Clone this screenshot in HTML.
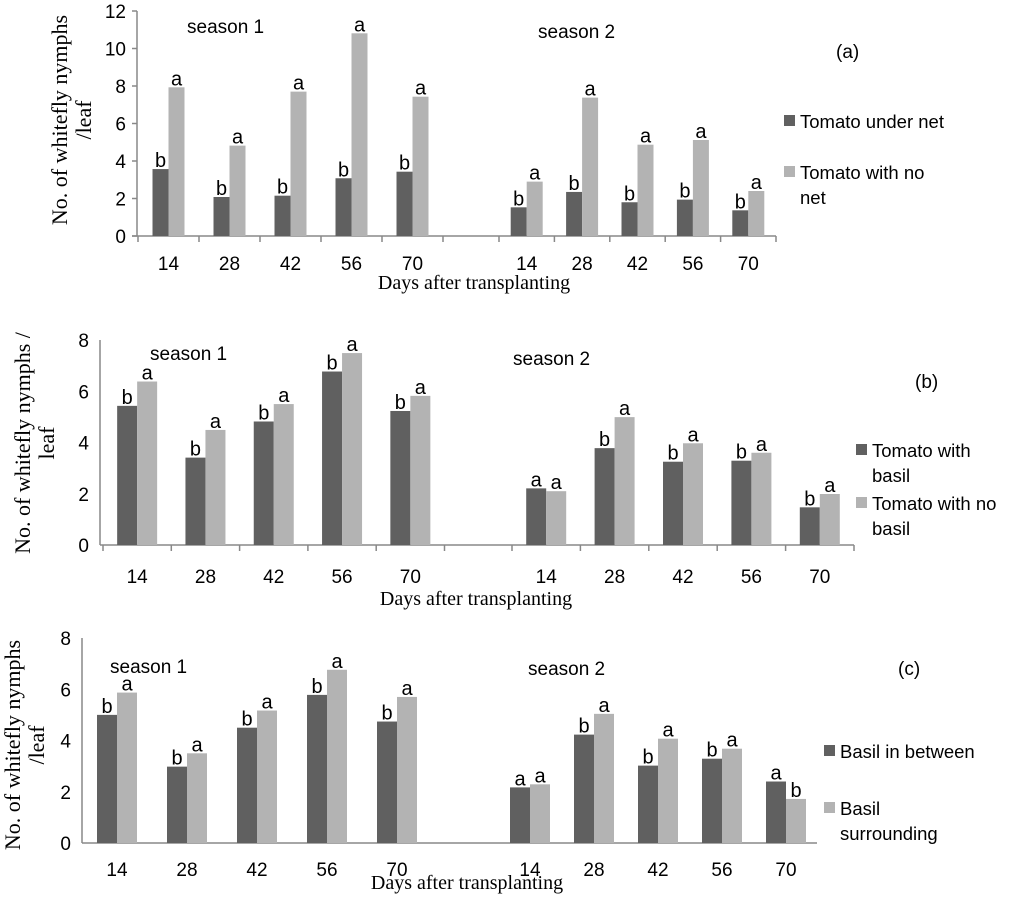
<!DOCTYPE html>
<html><head><meta charset="utf-8"><style>
body{margin:0;background:#fff;width:1024px;height:898px;overflow:hidden}
svg{display:block}
.s{font-family:"Liberation Sans",sans-serif}
.r{font-family:"Liberation Serif",serif}
</style></head><body>
<svg id="chart" width="1024" height="898" xmlns="http://www.w3.org/2000/svg"></svg>
<script>
const categories=["14","28","42","56","70"];
const aDark1=[3.57,2.08,2.15,3.08,3.43];
const aLight1=[7.93,4.82,7.7,10.81,7.43];
const aDark2=[1.53,2.35,1.8,1.94,1.37];
const aLight2=[2.9,7.38,4.87,5.12,2.4];
const aLetD1=["b","b","b","b","b"],aLetL1=["a","a","a","a","a"];
const aLetD2=["b","b","b","b","b"],aLetL2=["a","a","a","a","a"];
const bDark1=[5.43,3.41,4.82,6.77,5.23];
const bLight1=[6.38,4.49,5.5,7.49,5.82];
const bDark2=[2.21,3.78,3.25,3.29,1.47];
const bLight2=[2.1,4.99,3.97,3.6,1.99];
const bLetD1=["b","b","b","b","b"],bLetL1=["a","a","a","a","a"];
const bLetD2=["a","b","b","b","b"],bLetL2=["a","a","a","a","a"];
const cDark1=[5.0,2.98,4.5,5.78,4.74];
const cLight1=[5.87,3.5,5.17,6.76,5.7];
const cDark2=[2.17,4.23,3.02,3.29,2.4];
const cLight2=[2.29,5.04,4.07,3.68,1.72];
const cLetD1=["b","b","b","b","b"],cLetL1=["a","a","a","a","a"];
const cLetD2=["a","b","b","b","a"],cLetL2=["a","a","a","a","b"];
const aTicks=[0,2,4,6,8,10,12];
const bTicks=[0,2,4,6,8];
const cTicks=[0,2,4,6,8];

const svg=document.getElementById('chart');
const NS='http://www.w3.org/2000/svg';
function mk(tag,attrs,parent){const e=document.createElementNS(NS,tag);for(const k in attrs)e.setAttribute(k,attrs[k]);(parent||svg).appendChild(e);return e;}
function txt(x,y,s,cls,size,anchor,parent){const e=mk('text',{x:x,y:y,'font-size':size,'text-anchor':anchor||'middle',fill:'#000',class:cls},parent);e.textContent=s;return e;}

function panel(p){
  const g=mk('g',{});
  
  
  const ys=v=>p.y0-(v/p.ymax)*(p.y0-p.y1);
  const ya=mk('line',{x1:p.ax,y1:p.y1,x2:p.ax,y2:p.y0,stroke:'#888','stroke-width':1.5},g);
  
  const xa=mk('line',{x1:p.ax-(p.yt?5:0),y1:p.y0,x2:p.axEnd,y2:p.y0,stroke:'#888','stroke-width':1.5},g);
  
  p.ticks.forEach(t=>{
    const y=ys(t);
    if(p.yt) mk('line',{x1:p.ax-5,y1:y,x2:p.ax,y2:y,stroke:'#888','stroke-width':1.5},g);
    const e=txt(p.ax-11,y+7,String(t),'s',19,'end',g);
    
  });
  const segs=[[p.l0,p.lw,p.d1,p.l1,p.ld1,p.ll1],[p.r0,p.rw,p.d2,p.l2,p.ld2,p.ll2]];
  segs.forEach((s,si)=>{
    const [st,w,dk,lt,ldk,llt]=s;
    for(let i=0;i<=categories.length;i++){
      if(p.xt){const x=st+w*i;mk('line',{x1:x,y1:p.y0,x2:x,y2:p.y0+6,stroke:'#888','stroke-width':1.5},g);}
    }
    categories.forEach((c,i)=>{
      const cx=st+w*(i+0.5);
      const bd=mk('rect',{x:cx-p.bw,y:ys(dk[i]),width:p.bw,height:p.y0-ys(dk[i]),fill:'#606060'},g);
      
      const bl=mk('rect',{x:cx,y:ys(lt[i]),width:p.bw,height:p.y0-ys(lt[i]),fill:'#b3b3b3'},g);
      
      const t1=txt(cx-p.bw/2,ys(dk[i])-2,ldk[i],'s',20,'middle',g);
      
      const t2=txt(cx+p.bw/2,ys(lt[i])-2,llt[i],'s',20,'middle',g);
      
      const xl=txt(cx,p.xly,c,'s',19,'middle',g);
      
    });
  });
  const xt=txt(p.xtx,p.xty,'Days after transplanting','r',20,'middle',g);
  
  const yt=mk('text',{transform:`translate(${p.ytx},${p.yty}) rotate(-90)`,'font-size':22,'text-anchor':'middle',class:'r',fill:'#000'},g);
  
  p.ytl.forEach((l,i)=>{const ts=mk('tspan',{x:0,dy:i?24:0},yt);ts.textContent=l;});
  const s1=txt(p.s1x,p.s1y,'season 1','s',19,'start',g);
  
  const s2=txt(p.s2x,p.s2y,'season 2','s',19,'start',g);
  
  const pl=txt(p.px,p.py,p.plabel,'s',19,'start',g);
  
  const lg=mk('g',{},g);
  
  p.leg.forEach((e,i)=>{
    const le=mk('g',{},lg);
    
    mk('rect',{x:p.lgx,y:e.y-6,width:11,height:11,fill:i?'#b3b3b3':'#606060'},le);
    e.lines.forEach((l,j)=>txt(p.lgx+16,e.y+7+j*25,l,'s',18.5,'start',le));
  });
}

panel({name:'panel-a',ymax:12,y0:236,y1:11,ax:137,axEnd:776,yt:true,xt:true,ticks:aTicks,
  l0:138,lw:61,r0:499,rw:55.4,bw:16,d1:aDark1,l1:aLight1,d2:aDark2,l2:aLight2,
  ld1:aLetD1,ll1:aLetL1,ld2:aLetD2,ll2:aLetL2,sDark:'under-net',sLight:'no-net',
  xly:270,xtx:474,xty:289,ytx:67,yty:120,ytl:['No. of whitefly  nymphs','/leaf'],
  s1x:187,s1y:33,s2x:538,s2y:38,px:836,py:58,plabel:'(a)',lgx:784,
  leg:[{y:121,lines:['Tomato under net']},{y:172,lines:['Tomato with no','net']}]});
panel({name:'panel-b',ymax:8,y0:545,y1:340,ax:100,axEnd:854,yt:false,xt:true,ticks:bTicks,
  l0:103,lw:68.3,r0:512,rw:68.4,bw:20,d1:bDark1,l1:bLight1,d2:bDark2,l2:bLight2,
  ld1:bLetD1,ll1:bLetL1,ld2:bLetD2,ll2:bLetL2,sDark:'with-basil',sLight:'no-basil',
  xly:583,xtx:476,xty:605,ytx:30,yty:443,ytl:['No. of whitefly nymphs /','leaf'],
  s1x:150,s1y:360,s2x:513,s2y:365,px:915,py:388,plabel:'(b)',lgx:856,
  leg:[{y:450,lines:['Tomato with','basil']},{y:503,lines:['Tomato with no','basil']}]});
panel({name:'panel-c',ymax:8,y0:843,y1:638,ax:82,axEnd:817,yt:false,xt:false,ticks:cTicks,
  l0:82,lw:70,r0:498,rw:64,bw:20,d1:cDark1,l1:cLight1,d2:cDark2,l2:cLight2,
  ld1:cLetD1,ll1:cLetL1,ld2:cLetD2,ll2:cLetL2,sDark:'basil-between',sLight:'basil-surrounding',
  xly:876,xtx:467,xty:889,ytx:20,yty:745,ytl:['No. of whitefly nymphs','/leaf'],
  s1x:110,s1y:673,s2x:528,s2y:675,px:898,py:675,plabel:'(c)',lgx:824,
  leg:[{y:751,lines:['Basil in between']},{y:808,lines:['Basil','surrounding']}]});
</script>
</body></html>
